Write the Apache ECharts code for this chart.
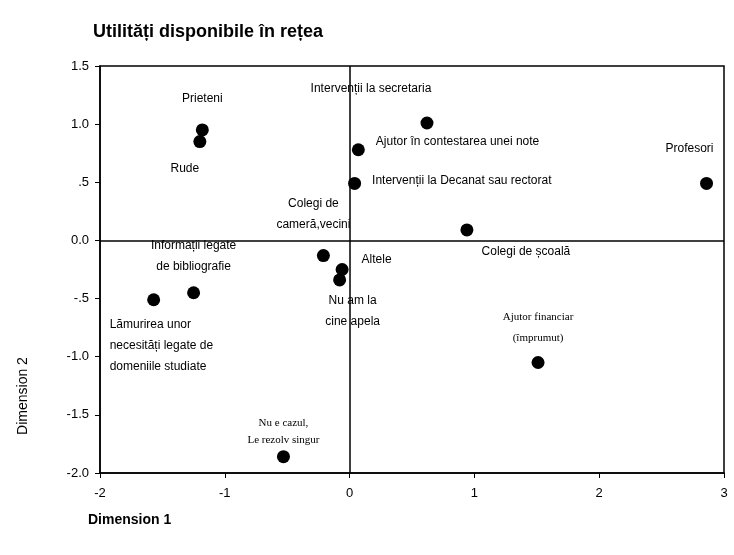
<!DOCTYPE html>
<html>
<head>
<meta charset="utf-8">
<script src="https://cdn.jsdelivr.net/npm/echarts@6/dist/echarts.min.js"></script>
<style>
  html, body { margin: 0; padding: 0; background: #fff; }
  #chart { width: 734px; height: 555px; }
</style>
</head>
<body>
<div id="chart"></div>
<script>
// categories and coordinates
const names = [
  'Prieteni', 'Rude', 'Intervenții la secretaria', 'Ajutor în contestarea unei note',
  'Intervenții la Decanat sau rectorat', 'Profesori', 'Colegi de\ncameră,vecini',
  'Colegi de școală', 'Altele', 'Nu am la\ncine apela',
  'Informații legate\nde bibliografie', 'Lămurirea unor\nnecesități legate de\ndomeniile studiate',
  'Nu e cazul,\nLe rezolv singur', 'Ajutor financiar\n(împrumut)'
]
const dim1 = [-1.18, -1.20, 0.62, 0.07, 0.04, 2.86, -0.21, 0.94, -0.06, -0.08, -1.25, -1.57, -0.53, 1.51]
const dim2 = [0.95, 0.85, 1.01, 0.78, 0.49, 0.49, -0.13, 0.09, -0.25, -0.34, -0.45, -0.51, -1.86, -1.05]

const xTicks = ['-2', '-1', '0', '1', '2', '3']
const yTickLabels = { '1.5': '1.5', '1': '1.0', '0.5': '.5', '0': '0.0', '-0.5': '-.5', '-1': '-1.0', '-1.5': '-1.5', '-2': '-2.0' }

// label placement per point (style only)
const labelStyle = [
  { offset: [0, -31] },
  { offset: [-15, 27] },
  { offset: [-56, -34] },
  { position: 'right', offset: [6, -8] },
  { position: 'right', offset: [6, -3] },
  { offset: [-17, -35] },
  { offset: [-10, -41] },
  { offset: [59, 22] },
  { position: 'right', offset: [8, -10] },
  { offset: [13, 31] },
  { offset: [0, -37] },
  { offset: [-44, 46], align: 'left' },
  { offset: [0, -25], fontFamily: 'Liberation Serif', fontSize: 11, lineHeight: 17 },
  { offset: [0, -35], fontFamily: 'Liberation Serif', fontSize: 11 }
]

const chart = echarts.init(document.getElementById('chart'))

const points = names.map((n, i) => ({
  name: n,
  value: [dim1[i], dim2[i]],
  label: Object.assign({ show: true, position: 'inside', color: '#000' }, labelStyle[i])
}))

chart.setOption({
  animation: false,
  title: {
    text: 'Utilități disponibile în rețea',
    left: 88, top: 18,
    textStyle: { fontFamily: 'Liberation Sans, Arial', fontSize: 18, fontWeight: 'bold', color: '#000' }
  },
  grid: {
    left: 100, right: 10, top: 66, bottom: 82,
    show: true, borderColor: '#000', borderWidth: 1.5, backgroundColor: '#fff'
  },
  xAxis: {
    type: 'value', min: -2, max: 3, interval: 1,
    name: 'Dimension 1', nameLocation: 'start',
    nameGap: 0,
    nameTextStyle: { fontFamily: 'Liberation Sans, Arial', fontSize: 14, fontWeight: 'bold', color: '#000', align: 'left', verticalAlign: 'top', padding: [40, 0, 0, -12] },
    axisLine: { show: true, onZero: false, lineStyle: { color: '#000', width: 1.5 } },
    axisTick: { show: true, length: 5, lineStyle: { color: '#000' } },
    splitLine: { show: false },
    axisLabel: {
      color: '#000', fontFamily: 'Liberation Sans, Arial', fontSize: 13, margin: 14,
      formatter: v => xTicks[Math.round(v) + 2]
    }
  },
  yAxis: {
    type: 'value', min: -2, max: 1.5, interval: 0.5,
    name: 'Dimension 2', nameLocation: 'middle', nameGap: 70,
    nameTextStyle: { fontFamily: 'Liberation Sans, Arial', fontSize: 14, color: '#000', padding: [0, 0, 0, -253] },
    axisLine: { show: true, onZero: false, lineStyle: { color: '#000', width: 1.5 } },
    axisTick: { show: true, length: 5, lineStyle: { color: '#000' } },
    splitLine: { show: false },
    axisLabel: {
      color: '#000', fontFamily: 'Liberation Sans, Arial', fontSize: 13, margin: 11,
      formatter: v => yTickLabels[String(v)]
    }
  },
  series: [{
    type: 'scatter',
    symbolSize: 13,
    itemStyle: { color: '#000', opacity: 1 },
    label: {
      color: '#000', fontFamily: 'Liberation Sans, Arial', fontSize: 12, lineHeight: 21,
      formatter: p => p.name
    },
    data: points,
    markLine: {
      silent: true, symbol: 'none', label: { show: false },
      lineStyle: { color: '#000', type: 'solid', width: 1.5, opacity: 1 },
      data: [{ xAxis: 0 }, { yAxis: 0 }]
    }
  }]
})
</script>
</body>
</html>
